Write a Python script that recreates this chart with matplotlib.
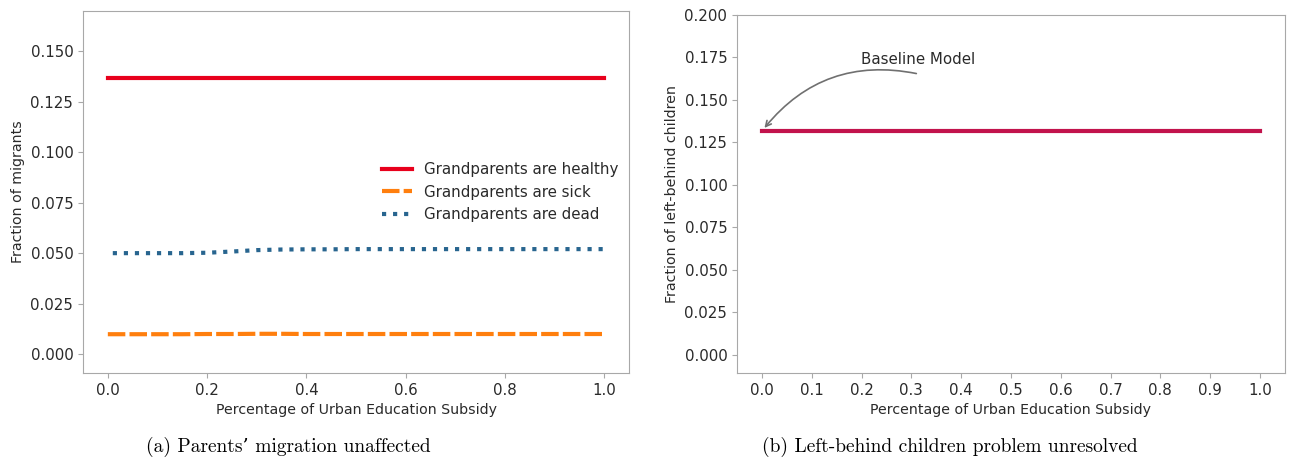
import matplotlib
matplotlib.use("Agg")
import matplotlib.pyplot as plt

# --------------------------------------------------
# Data
# --------------------------------------------------
subsidy = [0.0, 0.05, 0.1, 0.15, 0.2, 0.25, 0.3, 0.35, 0.4, 0.45, 0.5,
           0.55, 0.6, 0.65, 0.7, 0.75, 0.8, 0.85, 0.9, 0.95, 1.0]
subsidy_dead = [0.01, 0.05, 0.1, 0.15, 0.2, 0.25, 0.3, 0.35, 0.4, 0.45, 0.5,
                0.55, 0.6, 0.65, 0.7, 0.75, 0.8, 0.85, 0.9, 0.95, 1.0]

healthy = [0.137] * 21
sick = [0.0098, 0.0098, 0.0098, 0.0098, 0.0099, 0.0099, 0.0100, 0.0100, 0.0099, 0.0099, 0.0099,
        0.0099, 0.0099, 0.0099, 0.0099, 0.0099, 0.0099, 0.0099, 0.0099, 0.0099, 0.0099]
dead = [0.0500, 0.0500, 0.0500, 0.0500, 0.0502, 0.0508, 0.0515, 0.0518, 0.0519, 0.0519, 0.0520,
        0.0520, 0.0520, 0.0520, 0.0520, 0.0520, 0.0520, 0.0520, 0.0520, 0.0520, 0.0520]
left_behind = [0.1315] * 21

labels = ["Grandparents are healthy", "Grandparents are sick", "Grandparents are dead"]
left_yticks = [0.0, 0.025, 0.05, 0.075, 0.1, 0.125, 0.15]
right_yticks = [0.0, 0.025, 0.05, 0.075, 0.1, 0.125, 0.15, 0.175, 0.2]
left_xticks = [0.0, 0.2, 0.4, 0.6, 0.8, 1.0]
right_xticks = [0.0, 0.1, 0.2, 0.3, 0.4, 0.5, 0.6, 0.7, 0.8, 0.9, 1.0]

SPINE = "#a8a8a8"
TXT = "#2a2a2a"
TICK_FS = 10.8
LABEL_FS = 10.2
CAPTION_FONT = ["cmr10", "DejaVu Serif"]

fig = plt.figure(figsize=(12.89, 4.65), dpi=100)
ax1 = fig.add_axes([0.0644, 0.198, 0.4236, 0.778])
ax2 = fig.add_axes([0.5718, 0.198, 0.4250, 0.770])

for ax in (ax1, ax2):
    for s in ax.spines.values():
        s.set_color(SPINE)
    ax.tick_params(colors=SPINE, labelcolor=TXT, labelsize=TICK_FS)

# ---- (a) migrants ----
ax1.plot(subsidy, healthy, color="#e8001c", lw=3, label=labels[0])
ax1.plot(subsidy, sick, color="#ff7f0e", lw=3, ls=(0, (4.2, 1.0)), label=labels[1])
ax1.plot(subsidy_dead, dead, color="#28658f", lw=3, ls=":", label=labels[2])
ax1.set_ylim(-0.0094, 0.17)
ax1.set_xticks(left_xticks)
ax1.set_yticks(left_yticks)
ax1.set_xlabel("Percentage of Urban Education Subsidy", fontsize=LABEL_FS, color=TXT)
ax1.set_ylabel("Fraction of migrants", fontsize=LABEL_FS, color=TXT)
leg = ax1.legend(loc="center right", fontsize=TICK_FS, frameon=False,
                 borderaxespad=0.3)
for t in leg.get_texts():
    t.set_color(TXT)

# ---- (b) left-behind children ----
ax2.plot(subsidy, left_behind, color="#c2134c", lw=3)
ax2.set_ylim(-0.0106, 0.2)
ax2.set_xticks(right_xticks)
ax2.set_yticks(right_yticks)
ax2.set_xlabel("Percentage of Urban Education Subsidy", fontsize=LABEL_FS, color=TXT)
ax2.set_ylabel("Fraction of left-behind children", fontsize=LABEL_FS, color=TXT)
ax2.text(0.314, 0.174, "Baseline Model", ha="center", va="center",
         fontsize=TICK_FS, color=TXT)
ax2.annotate("", xy=(0.005, 0.1335), xytext=(0.31, 0.1655),
             arrowprops=dict(arrowstyle="->", color="#707070", lw=1.2,
                             shrinkA=0, shrinkB=0,
                             connectionstyle="arc3,rad=0.3"))

# ---- captions ----
fig.text(0.2236, 0.038, "(a) Parents\u2019 migration unaffected",
         ha="center", va="center", fontsize=14, family=CAPTION_FONT)
fig.text(0.737, 0.038, "(b) Left-behind children problem unresolved",
         ha="center", va="center", fontsize=14, family=CAPTION_FONT)

fig.savefig("out.png", dpi=100)
